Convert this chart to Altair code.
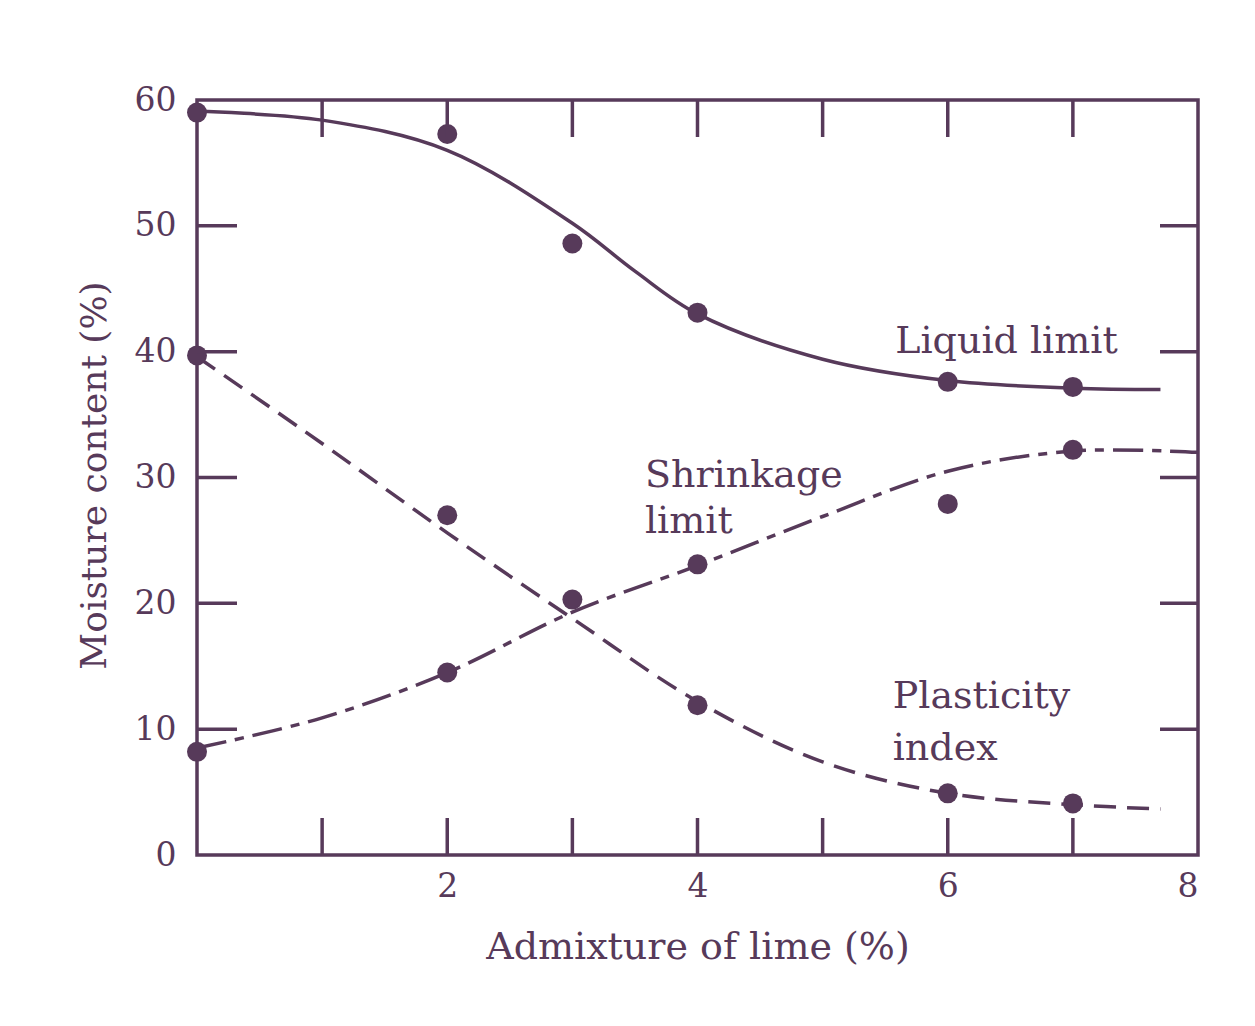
import altair as alt
import pandas as pd

COLOR = "#573a5a"
FONT = "DejaVu Serif"

# measured points
lime_pts = [0, 2, 3, 4, 6, 7]
liquid_pts = [59.0, 57.3, 48.6, 43.1, 37.6, 37.2]
shrink_pts = [8.2, 14.5, 20.3, 23.1, 27.9, 32.2]
plast_lime_pts = [0, 2, 4, 6, 7]
plast_pts = [39.7, 27.0, 11.9, 4.9, 4.1]

# fitted curves
liquid_curve_x = [0, 1, 2, 3, 3.5, 4, 5, 6, 7, 7.7]
liquid_curve_y = [59.1, 58.4, 56.0, 50.2, 46.4, 43.0, 39.4, 37.7, 37.1, 37.0]
shrink_curve_x = [0, 1, 2, 3, 4, 5, 6, 7, 8]
shrink_curve_y = [8.5, 10.9, 14.5, 19.3, 23.0, 26.9, 30.5, 32.1, 32.0]
plast_curve_x = [0, 1, 2, 3, 4, 5, 6, 7, 7.7]
plast_curve_y = [39.6, 32.7, 25.6, 18.8, 12.2, 7.4, 4.9, 4.0, 3.65]

# annotations
label_text = ["Liquid limit", "Shrinkage", "limit", "Plasticity", "index"]
label_x = [5.58, 3.58, 3.58, 5.56, 5.56]
label_y = [39.9, 29.25, 25.6, 11.68, 7.55]

x_ticks_inner = [1, 2, 3, 4, 5, 6, 7]
y_ticks_inner = [10, 20, 30, 40, 50]
x_label_values = [2, 4, 6, 8]
y_label_values = [0, 10, 20, 30, 40, 50, 60]

W, H = 1001, 755
xs = alt.Scale(domain=[0, 8], nice=False, zero=False)
ys = alt.Scale(domain=[0, 60], nice=False, zero=False)

liquid_curve = pd.DataFrame({"x": liquid_curve_x, "y": liquid_curve_y})
shrink_curve = pd.DataFrame({"x": shrink_curve_x, "y": shrink_curve_y})
plast_curve = pd.DataFrame({"x": plast_curve_x, "y": plast_curve_y})
points = pd.DataFrame({
    "x": lime_pts + lime_pts + plast_lime_pts,
    "y": liquid_pts + shrink_pts + plast_pts,
})
labels = pd.DataFrame({"t": label_text, "x": label_x, "y": label_y})
xt = pd.DataFrame({"v": x_ticks_inner})
yt = pd.DataFrame({"v": y_ticks_inner})

xaxis = alt.Axis(values=x_label_values, ticks=False, domain=False, grid=False,
                 labelFont=FONT, labelFontSize=33, labelColor=COLOR, labelPadding=15,
                 title="Admixture of lime (%)", titleFont=FONT, titleFontSize=38,
                 titleFontWeight="normal", titleColor=COLOR, titleX=W / 2, titleY=103,
                 titleBaseline="alphabetic", titleAlign="center")
yaxis = alt.Axis(values=y_label_values, ticks=False, domain=False, grid=False,
                 labelFont=FONT, labelFontSize=33, labelColor=COLOR, labelPadding=21,
                 title="Moisture content (%)", titleFont=FONT, titleFontSize=36,
                 titleFontWeight="normal", titleColor=COLOR, titleX=-92, titleY=375,
                 titleAngle=-90, titleBaseline="alphabetic", titleAlign="center")


def X(f):
    return alt.X(f, scale=xs, axis=xaxis)


def Y(f):
    return alt.Y(f, scale=ys, axis=yaxis)


base_line = dict(color=COLOR, strokeWidth=3.5, interpolate="catmull-rom")

liq = alt.Chart(liquid_curve).mark_line(**base_line).encode(x=X("x:Q"), y=Y("y:Q"))
shr = alt.Chart(shrink_curve).mark_line(strokeDash=[30, 9, 9, 9], **base_line).encode(
    x=X("x:Q"), y=Y("y:Q"))
pla = alt.Chart(plast_curve).mark_line(strokeDash=[22, 11], **base_line).encode(
    x=X("x:Q"), y=Y("y:Q"))
pts = alt.Chart(points).mark_circle(color=COLOR, size=400, opacity=1).encode(
    x=X("x:Q"), y=Y("y:Q"))
txt = alt.Chart(labels).mark_text(font=FONT, fontSize=38, color=COLOR, align="left",
                                  baseline="alphabetic").encode(
    x=X("x:Q"), y=Y("y:Q"), text="t:N")

tick_kw = dict(color=COLOR, strokeWidth=3.5)
top_t = alt.Chart(xt).mark_rule(**tick_kw).encode(
    x=X("v:Q"), y=alt.value(0), y2=alt.value(37))
bot_t = alt.Chart(xt).mark_rule(**tick_kw).encode(
    x=X("v:Q"), y=alt.value(H), y2=alt.value(H - 37))
left_t = alt.Chart(yt).mark_rule(**tick_kw).encode(
    y=Y("v:Q"), x=alt.value(0), x2=alt.value(40))
right_t = alt.Chart(yt).mark_rule(**tick_kw).encode(
    y=Y("v:Q"), x=alt.value(W), x2=alt.value(W - 38))

chart = alt.layer(liq, shr, pla, pts, txt, top_t, bot_t, left_t, right_t).properties(
    width=W, height=H,
    autosize=alt.AutoSizeParams(type="none"),
    padding={"left": 189, "top": 92, "right": 40, "bottom": 150},
    background="white",
).configure_view(stroke=COLOR, strokeWidth=3.5)

chart.save("out.html", embed_options={"renderer": "svg", "actions": False})
